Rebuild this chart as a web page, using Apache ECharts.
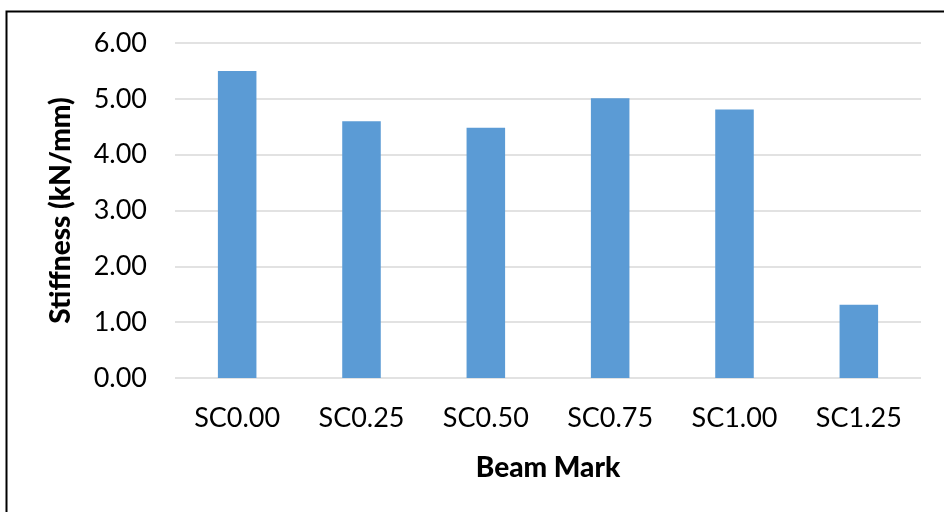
<!DOCTYPE html>
<html>
<head>
<meta charset="utf-8">
<script src="https://cdn.jsdelivr.net/npm/echarts@6/dist/echarts.min.js"></script>
<style>
  html, body { margin: 0; padding: 0; background: #ffffff; }
  #chart { width: 944px; height: 512px; }
</style>
</head>
<body>
<div id="chart"></div>
<script>
// Beam stiffness by specimen
const beamMarks = ['SC0.00', 'SC0.25', 'SC0.50', 'SC0.75', 'SC1.00', 'SC1.25'];
const stiffness = [5.50, 4.60, 4.48, 5.01, 4.81, 1.31];

const FONT = 'Lato, "Open Sans", sans-serif';

const chart = echarts.init(document.getElementById('chart'), null, { renderer: 'canvas' });

chart.setOption({
  animation: false,
  backgroundColor: '#ffffff',
  graphic: [{
    type: 'rect',
    left: 4, top: 9,
    shape: { width: 960, height: 520 },
    style: { fill: 'none', stroke: '#000000', lineWidth: 2 },
    silent: true
  }],
  grid: { left: 175, right: 23, top: 43, bottom: 134, containLabel: false },
  xAxis: {
    type: 'category',
    data: beamMarks,
    name: 'Beam Mark',
    nameLocation: 'middle',
    nameGap: 76,
    nameTextStyle: { fontFamily: FONT, fontWeight: 900, fontSize: 28, color: '#000' },
    axisLine: { show: false },
    axisTick: { show: false },
    axisLabel: { fontFamily: FONT, fontSize: 27, color: '#000', margin: 27 },
    splitLine: { show: false }
  },
  yAxis: {
    type: 'value',
    min: 0, max: 6, interval: 1,
    name: 'Stiffness (kN/mm)',
    nameLocation: 'middle',
    nameGap: 100,
    nameTextStyle: { fontFamily: FONT, fontWeight: 900, fontSize: 28, color: '#000' },
    axisLine: { show: false },
    axisTick: { show: false },
    axisLabel: {
      fontFamily: FONT, fontSize: 27, color: '#000', margin: 28,
      formatter: v => v.toFixed(2)
    },
    splitLine: { show: true, lineStyle: { color: '#d9d9d9', width: 1.5 } }
  },
  series: [{
    type: 'bar',
    data: stiffness,
    barWidth: '31%',
    itemStyle: { color: '#5b9bd5' }
  }]
});
</script>
</body>
</html>
